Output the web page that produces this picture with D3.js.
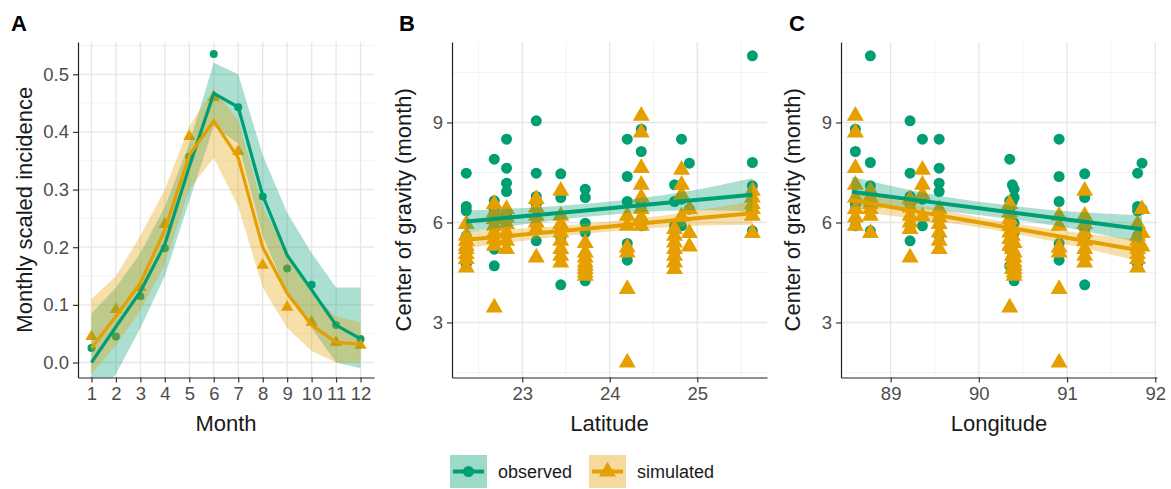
<!DOCTYPE html>
<html>
<head>
<meta charset="utf-8">
<script src="https://cdn.jsdelivr.net/npm/d3@7"></script>
<style>
body { margin: 0; background: #fff; }
text { font-family: "Liberation Sans", Arial, sans-serif; }
</style>
</head>
<body>
<div id="chart"></div>
<script>
// ---- panel A: monthly scaled incidence ----
var months = [1, 2, 3, 4, 5, 6, 7, 8, 9, 10, 11, 12];
var obsMonth = [0.025, 0.045, 0.115, 0.198, 0.357, 0.535, 0.443, 0.288, 0.163, 0.135, 0.065, 0.041];
var simMonth = [0.045, 0.092, 0.13, 0.24, 0.392, 0.46, 0.366, 0.169, 0.096, 0.07, 0.035, 0.03];
var obsMonthFit = [0.0, 0.062, 0.123, 0.205, 0.34, 0.467, 0.443, 0.29, 0.186, 0.126, 0.065, 0.041];
var obsMonthLo = [-0.07, -0.02, 0.06, 0.15, 0.28, 0.41, 0.38, 0.22, 0.12, 0.06, 0.0, -0.01];
var obsMonthHi = [0.085, 0.13, 0.19, 0.27, 0.38, 0.52, 0.5, 0.36, 0.26, 0.19, 0.13, 0.13];
var simMonthFit = [0.025, 0.08, 0.138, 0.23, 0.36, 0.419, 0.355, 0.2, 0.12, 0.065, 0.035, 0.032];
var simMonthLo = [-0.02, 0.03, 0.09, 0.17, 0.3, 0.355, 0.27, 0.13, 0.06, 0.02, 0.0, 0.0];
var simMonthHi = [0.11, 0.15, 0.22, 0.3, 0.41, 0.475, 0.42, 0.27, 0.19, 0.12, 0.08, 0.07];

// ---- panels B and C: centre of gravity per station ----
var stationLat = [22.36, 22.68, 22.82, 23.16, 23.44, 23.72, 24.20, 24.36, 24.74, 24.82, 24.91, 25.63];
var stationLon = [91.80, 90.35, 89.55, 89.22, 91.20, 90.40, 90.91, 88.60, 90.38, 89.36, 91.85, 88.77];
var stationObs = [
  [7.48, 6.48, 6.35, 5.6, 4.9, 4.75],
  [7.9, 6.65, 6.4, 6.0, 5.2, 4.7],
  [8.5, 7.63, 7.18, 6.93, 6.2, 5.6],
  [9.05, 7.48, 6.78, 6.55, 5.9, 5.45],
  [7.46, 6.75, 5.8, 5.55, 4.13],
  [7.0, 6.75, 5.98, 5.7, 4.45, 4.25],
  [8.5, 7.38, 6.63, 5.37, 4.87],
  [8.8, 8.13, 6.55, 6.4, 5.9],
  [7.13, 6.63, 5.9, 4.98, 4.75],
  [8.5, 6.7, 5.9],
  [7.78, 6.4],
  [11.0, 7.8, 7.1, 6.5, 5.75]
];
var stationSim = [
  [5.95, 5.6, 5.45, 5.3, 5.2, 5.05, 4.9, 4.65],
  [6.55, 6.3, 6.1, 5.9, 5.7, 5.5, 5.3, 3.45],
  [6.4, 6.15, 5.95, 5.7, 5.45, 5.2],
  [6.7, 6.45, 6.2, 6.0, 5.8, 4.95],
  [6.95, 6.2, 5.95, 5.7, 5.45, 5.2, 5.0, 4.8],
  [5.38, 5.1, 4.95, 4.8, 4.7, 4.6, 4.5, 4.4],
  [6.2, 5.9, 5.25, 5.1, 4.0, 1.8],
  [9.2, 8.7, 7.63, 7.13, 6.75, 6.4, 6.15, 5.9],
  [5.8, 5.6, 5.4, 5.2, 5.0, 4.8, 4.6],
  [7.58, 7.13, 6.83, 6.18],
  [6.4, 5.68, 5.28],
  [6.95, 6.75, 6.55, 6.4, 6.2, 5.68]
];

// linear fits
var latFitX = [22.36, 23.2, 24.0, 24.8, 25.63];
var latObsFit = [6.03, 6.235, 6.43, 6.63, 6.83];
var latObsLo = [5.7, 6.01, 6.23, 6.36, 6.33];
var latObsHi = [6.36, 6.46, 6.63, 6.9, 7.33];
var latSimFit = [5.48, 5.685, 5.88, 6.08, 6.28];
var latSimLo = [5.23, 5.51, 5.73, 5.88, 5.93];
var latSimHi = [5.73, 5.86, 6.03, 6.28, 6.63];

var lonFitX = [88.56, 89.4, 90.2, 91.0, 91.85];
var lonObsFit = [6.92, 6.634, 6.362, 6.09, 5.8];
var lonObsLo = [6.47, 6.38, 6.16, 5.84, 5.38];
var lonObsHi = [7.37, 6.88, 6.56, 6.34, 6.22];
var lonSimFit = [6.67, 6.282, 5.912, 5.543, 5.15];
var lonSimLo = [6.34, 6.08, 5.76, 5.34, 4.82];
var lonSimHi = [7.0, 6.48, 6.06, 5.74, 5.48];

var monthTicks = [1, 2, 3, 4, 5, 6, 7, 8, 9, 10, 11, 12];
var incTicks = [0, 0.1, 0.2, 0.3, 0.4, 0.5];
var incMinor = [0.05, 0.15, 0.25, 0.35, 0.45, 0.55];
var cogTicks = [3, 6, 9];
var cogMinor = [1.5, 4.5, 7.5, 10.5];
var latTicks = [23, 24, 25];
var latMinor = [22.5, 23.5, 24.5, 25.5];
var lonTicks = [89, 90, 91, 92];
var lonMinor = [88.5, 89.5, 90.5, 91.5];
var seriesNames = ["observed", "simulated"];

var colObs = "#009E73", colSim = "#E69F00";
var bandAlpha = 0.33;
var plotTop = 42, plotBottom = 377.5;

var svg = d3
  .select("#chart")
  .append("svg")
  .attr("width", 1171)
  .attr("height", 489);

// panel frame: grid, clip, titles
function drawFrame(id, x, y, xt, xm, yt, ym, xTitle, yTitle, letter, letterX, yTitleX) {
  var g = svg.append("g");
  var left = x.range()[0], right = x.range()[1];
  g.selectAll(".gyminor").data(ym).enter().append("line")
    .attr("x1", left).attr("x2", right)
    .attr("y1", d => y(d)).attr("y2", d => y(d))
    .attr("stroke", "#f0f0f0").attr("stroke-width", 0.8);
  g.selectAll(".gxminor").data(xm).enter().append("line")
    .attr("x1", d => x(d)).attr("x2", d => x(d))
    .attr("y1", plotTop).attr("y2", plotBottom)
    .attr("stroke", "#f0f0f0").attr("stroke-width", 0.8);
  g.selectAll(".gy").data(yt).enter().append("line")
    .attr("x1", left).attr("x2", right)
    .attr("y1", d => y(d)).attr("y2", d => y(d))
    .attr("stroke", "#e6e6e6").attr("stroke-width", 1.3);
  g.selectAll(".gx").data(xt).enter().append("line")
    .attr("x1", d => x(d)).attr("x2", d => x(d))
    .attr("y1", plotTop).attr("y2", plotBottom)
    .attr("stroke", "#e6e6e6").attr("stroke-width", 1.3);

  svg.append("clipPath").attr("id", id)
    .append("rect")
    .attr("x", left).attr("y", plotTop)
    .attr("width", right - left).attr("height", plotBottom - plotTop);

  g.append("text")
    .attr("x", letterX).attr("y", 31)
    .attr("font-size", "22px").attr("font-weight", "bold")
    .attr("fill", "#000")
    .text(letter);
  g.append("text")
    .attr("x", (left + right) / 2).attr("y", 431)
    .attr("text-anchor", "middle")
    .attr("font-size", "22px").attr("fill", "#1a1a1a")
    .text(xTitle);
  g.append("text")
    .attr("transform", `translate(${yTitleX}, ${(plotTop + plotBottom) / 2}) rotate(-90)`)
    .attr("text-anchor", "middle")
    .attr("font-size", "22px").attr("fill", "#1a1a1a")
    .text(yTitle);
  return g;
}

function drawAxes(x, y, xt, yt, yfmt) {
  var left = x.range()[0];
  var bx = svg.append("g")
    .attr("transform", `translate(0,${plotBottom})`)
    .call(d3.axisBottom(x).tickValues(xt).tickSize(5).tickSizeOuter(0).tickPadding(4).tickFormat(d3.format("d")));
  var ly = svg.append("g")
    .attr("transform", `translate(${left},0)`)
    .call(d3.axisLeft(y).tickValues(yt).tickSize(5).tickSizeOuter(0).tickPadding(4).tickFormat(yfmt));
  [bx, ly].forEach(a => {
    a.select(".domain").attr("stroke", "#222").attr("stroke-width", 1.2);
    a.selectAll(".tick line").attr("stroke", "#333").attr("stroke-width", 1.2);
    a.selectAll(".tick text")
      .attr("font-size", "18.5px")
      .attr("font-family", "Liberation Sans, Arial, sans-serif")
      .attr("fill", "#4d4d4d");
  });
}

var tri = d3.symbol().type(d3.symbolTriangle);

// ---------- panel A ----------
var xA = d3.scaleLinear().domain([0.45, 12.55]).range([78, 374]);
var yA = d3.scaleLinear().domain([-0.026, 0.556]).range([plotBottom, plotTop]);
drawFrame("clipA", xA, yA, monthTicks, [], incTicks, incMinor,
  "Month", "Monthly scaled incidence", "A", 11, 32);

var gA = svg.append("g").attr("clip-path", "url(#clipA)");
gA.selectAll(".pobs").data(months).enter().append("circle")
  .attr("cx", (d, i) => xA(d)).attr("cy", (d, i) => yA(obsMonth[i]))
  .attr("r", 4).attr("fill", colObs);
gA.selectAll(".psim").data(months).enter().append("path")
  .attr("d", tri.size(65)())
  .attr("transform", (d, i) => `translate(${xA(d)},${yA(simMonth[i])})`)
  .attr("fill", colSim);

var bandsA = [
  { lo: obsMonthLo, hi: obsMonthHi, fit: obsMonthFit, col: colObs },
  { lo: simMonthLo, hi: simMonthHi, fit: simMonthFit, col: colSim }
];
bandsA.forEach(b => {
  gA.append("path").datum(months)
    .attr("d", d3.area().x(d => xA(d)).y0((d, i) => yA(b.lo[i])).y1((d, i) => yA(b.hi[i])))
    .attr("fill", b.col).attr("fill-opacity", bandAlpha);
});
bandsA.forEach(b => {
  gA.append("path").datum(months)
    .attr("d", d3.line().x(d => xA(d)).y((d, i) => yA(b.fit[i])))
    .attr("fill", "none").attr("stroke", b.col).attr("stroke-width", 3.2);
});
drawAxes(xA, yA, monthTicks, incTicks, d3.format(".1f"));

// ---------- panels B and C ----------
var yC = d3.scaleLinear().domain([1.35, 11.415]).range([plotBottom, plotTop]);

function scatterPanel(id, x, pos, xt, xm, xTitle, letter, letterX, yTitleX, fitX, fits) {
  drawFrame(id, x, yC, xt, xm, cogTicks, cogMinor,
    xTitle, "Center of gravity (month)", letter, letterX, yTitleX);
  var g = svg.append("g").attr("clip-path", `url(#${id})`);
  var obsPts = [], simPts = [];
  pos.forEach((p, i) => {
    stationObs[i].forEach(v => obsPts.push([p, v]));
    stationSim[i].forEach(v => simPts.push([p, v]));
  });
  g.selectAll(".obs").data(obsPts).enter().append("circle")
    .attr("cx", d => x(d[0])).attr("cy", d => yC(d[1]))
    .attr("r", 5.5).attr("fill", colObs);
  g.selectAll(".sim").data(simPts).enter().append("path")
    .attr("d", tri.size(125)())
    .attr("transform", d => `translate(${x(d[0])},${yC(d[1])})`)
    .attr("fill", colSim);
  fits.forEach(f => {
    g.append("path").datum(fitX)
      .attr("d", d3.area().curve(d3.curveNatural).x(d => x(d))
        .y0((d, i) => yC(f.lo[i])).y1((d, i) => yC(f.hi[i])))
      .attr("fill", f.col).attr("fill-opacity", bandAlpha);
  });
  fits.forEach(f => {
    g.append("path").datum(fitX)
      .attr("d", d3.line().x(d => x(d)).y((d, i) => yC(f.fit[i])))
      .attr("fill", "none").attr("stroke", f.col).attr("stroke-width", 4);
  });
  drawAxes(x, yC, xt, cogTicks, d3.format("d"));
}

var xB = d3.scaleLinear().domain([22.197, 25.797]).range([452, 767]);
scatterPanel("clipB", xB, stationLat, latTicks, latMinor, "Latitude", "B", 399, 411, latFitX, [
  { fit: latObsFit, lo: latObsLo, hi: latObsHi, col: colObs },
  { fit: latSimFit, lo: latSimLo, hi: latSimHi, col: colSim }
]);

var xCl = d3.scaleLinear().domain([88.437, 92.02]).range([841, 1157]);
scatterPanel("clipC", xCl, stationLon, lonTicks, lonMinor, "Longitude", "C", 789, 800, lonFitX, [
  { fit: lonObsFit, lo: lonObsLo, hi: lonObsHi, col: colObs },
  { fit: lonSimFit, lo: lonSimLo, hi: lonSimHi, col: colSim }
]);

// ---------- legend ----------
var legX = [450, 589];
var legend = svg.append("g");
seriesNames.forEach((name, i) => {
  var col = i === 0 ? colObs : colSim;
  var kx = legX[i], ky = 455, kw = 37, kh = 33;
  legend.append("rect")
    .attr("x", kx).attr("y", ky).attr("width", kw).attr("height", kh)
    .attr("fill", col).attr("fill-opacity", bandAlpha + 0.05);
  legend.append("line")
    .attr("x1", kx + 3).attr("x2", kx + kw - 3)
    .attr("y1", ky + kh / 2).attr("y2", ky + kh / 2)
    .attr("stroke", col).attr("stroke-width", 4);
  if (i === 0) {
    legend.append("circle").attr("cx", kx + kw / 2).attr("cy", ky + kh / 2)
      .attr("r", 5.5).attr("fill", col);
  } else {
    legend.append("path").attr("d", tri.size(125)())
      .attr("transform", `translate(${kx + kw / 2},${ky + kh / 2})`)
      .attr("fill", col);
  }
  legend.append("text")
    .attr("x", kx + kw + 11).attr("y", ky + kh / 2 + 6)
    .attr("font-size", "18px").attr("fill", "#1a1a1a")
    .text(name);
});
</script>
</body>
</html>
